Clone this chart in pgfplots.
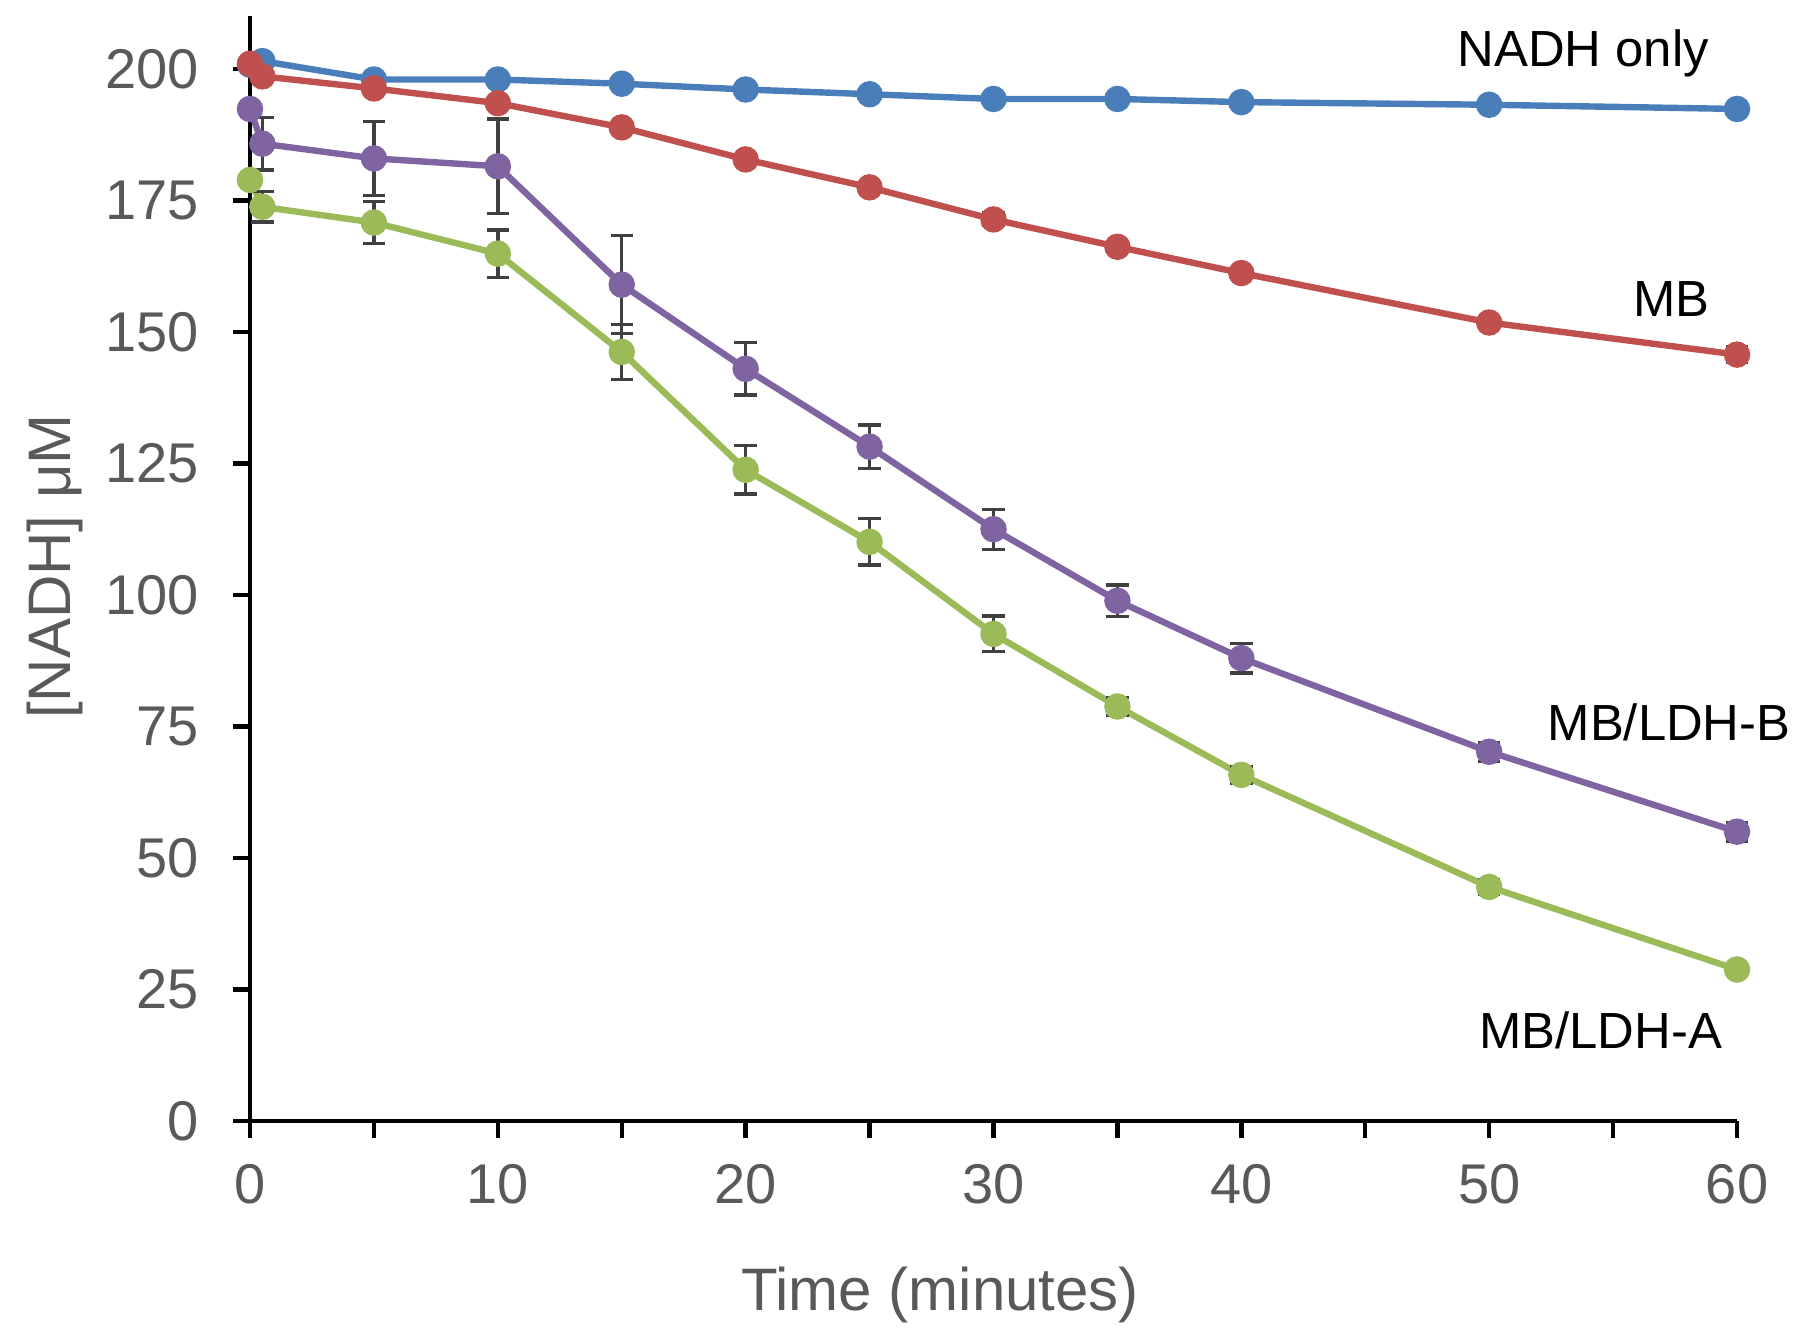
\documentclass[border=0pt]{standalone}
\usepackage{pgfplots}
\pgfplotsset{compat=1.18}
\usepackage{fontspec}
\setmainfont{Liberation Sans}
\definecolor{cBlue}{HTML}{4A7EBB}
\definecolor{cRed}{HTML}{C0504D}
\definecolor{cPurple}{HTML}{8064A2}
\definecolor{cGreen}{HTML}{9BBB59}
\definecolor{cErr}{HTML}{404040}
\definecolor{cText}{HTML}{595959}
\begin{document}
\begin{tikzpicture}
\begin{axis}[
  scale only axis,
  width=371.75pt, height=276.15pt,
  xmin=0, xmax=60, ymin=0, ymax=210,
  axis lines*=left,
  axis line style={black, line width=1.2pt},
  xtick={0,5,...,60},
  xticklabels={0,,10,,20,,30,,40,,50,,60},
  ytick={0,25,...,200},
  tick align=outside,
  major tick length=4.25pt,
  tick style={black, line width=1.1pt},
  /pgf/number format/assume math mode=true,
  tick label style={font=\fontsize{14}{16}\selectfont, text=cText},
  xticklabel style={yshift=-3pt},
  yticklabel style={xshift=-5pt},
  xlabel={Time (minutes)},
  ylabel={[NADH] μM},
  label style={font=\fontsize{15}{18}\selectfont, text=cText},
  xlabel style={at={(axis description cs:0.464,-0.172)}, anchor=base},
  ylabel style={at={(axis description cs:-0.1311,0.502)}, anchor=center},
  clip=false,
  every axis plot/.append style={line width=1.6pt, mark=*, mark size=2.5pt,
    /pgfplots/error bars/y dir=both, /pgfplots/error bars/y explicit,
    /pgfplots/error bars/error bar style={cErr, line width=0.85pt},
    /pgfplots/error bars/error mark options={rotate=90, mark size=2.8pt, line width=0.85pt, cErr}},
]
\addplot[cBlue, mark options={fill=cBlue, draw=cBlue}] table[x=t, y=v, y error=e] {
t v e
0 200.8 0.8
0.5 201.5 0.8
5 198.0 1.0
10 198.0 0.8
15 197.2 0.8
20 196.1 0.8
25 195.2 0.8
30 194.3 0.9
35 194.3 0.9
40 193.7 0.8
50 193.2 0.8
60 192.4 0.8
};
\addplot[cRed, mark options={fill=cRed, draw=cRed}] table[x=t, y=v, y error=e] {
t v e
0 201.0 0
0.5 198.6 0.8
5 196.3 0.8
10 193.5 0.8
15 188.9 0.8
20 182.8 0.8
25 177.5 0.8
30 171.4 1.2
35 166.2 0.8
40 161.2 0.8
50 151.8 1.0
60 145.7 1.5
};
\addplot[cPurple, mark options={fill=cPurple, draw=cPurple}] table[x=t, y=v, y error=e] {
t v e
0 192.4 0
0.5 185.8 5.0
5 183.0 7.0
10 181.5 9.0
15 159.0 9.3
20 143.0 5.0
25 128.2 4.1
30 112.5 3.8
35 98.9 3.0
40 88.0 2.8
50 70.2 1.8
60 55.0 1.8
};
\addplot[cGreen, mark options={fill=cGreen, draw=cGreen}] table[x=t, y=v, y error=e] {
t v e
0 178.9 0
0.5 173.8 2.9
5 170.8 4.0
10 164.9 4.5
15 146.2 5.2
20 123.8 4.6
25 110.1 4.4
30 92.6 3.4
35 78.8 1.7
40 65.8 1.6
50 44.5 1.4
60 28.8 0.8
};
\node[anchor=base, font=\fontsize{12.7}{15}\selectfont] at (axis cs:53.8,200.5) {NADH only};
\node[anchor=base, font=\fontsize{12.7}{15}\selectfont] at (axis cs:57.35,152.9) {MB};
\node[anchor=base, font=\fontsize{12.7}{15}\selectfont] at (axis cs:57.26,72.4) {MB/LDH-B};
\node[anchor=base, font=\fontsize{12.7}{15}\selectfont] at (axis cs:54.5,13.7) {MB/LDH-A};
\end{axis}
\pgfresetboundingbox
\path (-62.5pt,-55.75pt) rectangle (388.75pt,280.25pt);
\end{tikzpicture}
\end{document}
